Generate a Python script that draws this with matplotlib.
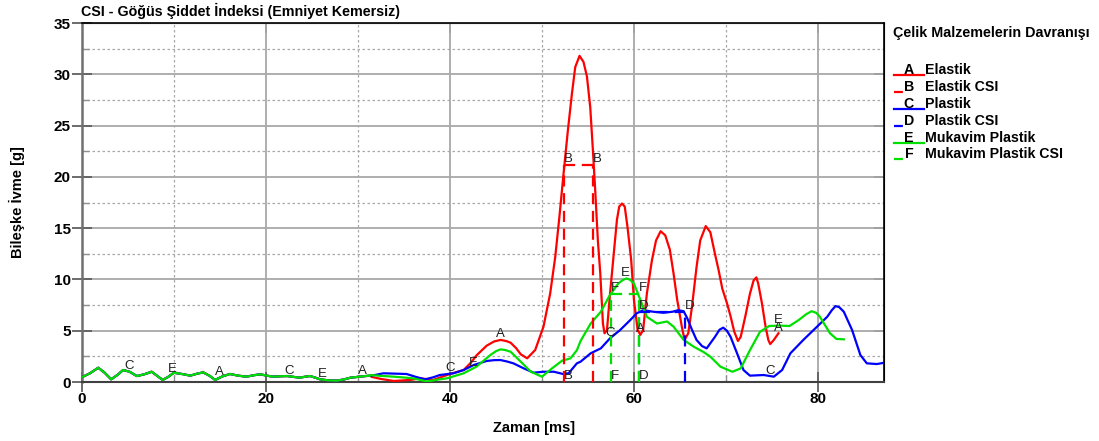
import numpy as np
import matplotlib
matplotlib.use('Agg')
import matplotlib.pyplot as plt
from matplotlib.lines import Line2D
from matplotlib.ticker import MultipleLocator

plt.rcParams['font.family'] = ['Liberation Sans', 'DejaVu Sans']

# ortak başlangıç bölgesi (üç eğri de üst üste)
early_t = [0, 0.9, 1.8, 2.5, 3.2, 3.9, 4.5, 5.2, 6.0, 6.8, 7.6, 8.2, 8.8, 9.4, 10.0,
           10.9, 11.8, 12.5, 13.2, 13.9, 14.5, 15.3, 16.1, 17.0, 17.9, 18.7, 19.4, 20.1,
           20.8, 21.6, 22.3, 23.0, 23.7, 24.3, 24.8, 25.4, 25.9, 26.8, 27.7, 28.5, 29.2,
           30.2, 31.3]
early_g = [0.46, 0.85, 1.39, 0.9, 0.26, 0.7, 1.17, 1.0, 0.58, 0.75, 1.0, 0.6, 0.2, 0.5, 0.9,
           0.78, 0.62, 0.8, 0.94, 0.6, 0.2, 0.55, 0.78, 0.62, 0.52, 0.66, 0.75, 0.62,
           0.52, 0.56, 0.58, 0.5, 0.42, 0.52, 0.58, 0.42, 0.26, 0.16, 0.13, 0.25, 0.42,
           0.52, 0.62]

# Elastik
elastik_t = [31.5, 32.5, 33.9, 35.7, 36.8, 38.2, 40.0, 41.5, 42.3, 42.9, 44.0, 44.8, 45.5,
             46.1, 46.6, 47.2, 47.7, 48.4, 49.27, 50.17, 50.9, 51.45, 51.9, 52.35, 52.83,
             53.26, 53.62, 54.09, 54.52, 54.89, 55.25, 55.54, 55.79, 56.08, 56.34, 56.63,
             56.8, 57.07, 57.4, 57.8, 58.15, 58.4, 58.7, 59.0, 59.3, 59.7, 60.0, 60.4,
             60.7, 61.0, 61.4, 61.96, 62.4, 62.9, 63.4, 63.9, 64.3, 64.7, 65.2, 65.5,
             65.9, 66.3, 66.8, 67.2, 67.8, 68.3, 68.8, 69.2, 69.6, 70.1, 70.5, 70.9,
             71.3, 71.6, 72.1, 72.6, 73.0, 73.3, 73.5, 73.9, 74.3, 74.6, 74.8, 75.2, 75.7]
elastik_g = [0.5, 0.3, 0.1, 0.2, 0.36, 0.2, 0.78, 1.17, 1.9, 2.6, 3.54, 3.95, 4.1,
             4.0, 3.83, 3.3, 2.7, 2.31, 3.12, 5.39, 8.64, 12.2, 16.1, 20.3, 24.6,
             28.1, 30.7, 31.8, 31.2, 29.8, 26.8, 22.6, 18.7, 13.8, 10.6, 5.7,
             4.75, 5.07, 8.6, 12.5, 15.8, 17.1, 17.4, 17.1, 15.1, 11.9, 8.0, 5.07,
             4.6, 5.07, 8.6, 11.9, 13.8, 14.7, 14.3, 12.9, 10.6, 8.0, 5.4, 4.1,
             4.75, 7.3, 11.2, 13.8, 15.2, 14.6, 12.5, 10.9, 9.1, 7.7, 6.4, 4.9,
             4.0, 4.4, 6.4, 8.6, 9.9, 10.2, 9.6, 7.7, 5.4, 4.1, 3.7, 4.1, 4.75]

# Plastik
plastik_t = [31.5, 32.8, 35.3, 36.3, 37.3, 38.2, 38.9, 40.4, 41.5, 42.6, 44.0, 44.8, 45.5,
             46.2, 46.9, 48.0, 49.1, 50.2, 51.3, 52.3, 52.9, 53.8, 54.2, 55.3, 56.4, 57.4,
             58.5, 59.6, 60.3, 61.0, 62.1, 63.2, 64.2, 64.8, 65.4, 65.8, 66.3, 66.8, 67.4,
             67.9, 68.8, 69.3, 69.7, 70.1, 70.5, 71.2, 71.9, 72.6, 74.1, 75.2, 76.1, 77.0,
             78.4, 79.9, 81.0, 81.5, 81.9, 82.3, 82.8, 83.7, 84.6, 85.3, 86.4, 87.2]
plastik_g = [0.62, 0.85, 0.78, 0.5, 0.26, 0.46, 0.68, 0.85, 1.17, 1.66, 2.05, 2.13, 2.14,
             2.0, 1.82, 1.34, 0.91, 1.0, 1.0, 0.78, 0.85, 1.82, 1.98, 2.8, 3.28, 4.26,
             5.07, 6.04, 6.7, 7.0, 6.85, 6.75, 6.85, 7.0, 6.9, 6.2, 5.1, 4.1, 3.5,
             3.28, 4.4, 5.1, 5.3, 5.0, 4.4, 2.8, 1.17, 0.62, 0.68, 0.52, 1.17, 2.8,
             4.1, 5.4, 6.36, 7.0, 7.4, 7.3, 6.85, 5.07, 2.63, 1.82, 1.75, 1.88]

# Mukavim Plastik
mukavim_t = [31.3, 32.5, 33.9, 36.0, 37.5, 38.9, 39.7, 41.5, 42.9, 44.4, 45.0, 45.5, 46.0,
             46.6, 47.7, 48.8, 50.0, 51.1, 52.2, 53.1, 53.8, 54.2, 55.3, 56.4, 57.4, 58.3,
             58.8, 59.2, 59.6, 60.0, 60.7, 61.4, 62.5, 63.6, 64.3, 65.4, 66.5, 67.6, 68.3,
             69.4, 70.7, 71.6, 72.6, 73.7, 74.7, 75.8, 76.9, 77.9, 78.7, 79.3, 79.8, 80.2,
             81.3, 82.0, 82.8]
mukavim_g = [0.68, 0.6, 0.52, 0.36, 0.05, 0.26, 0.36, 0.85, 1.5, 2.63, 3.0, 3.18, 3.12,
             2.95, 1.98, 1.0, 0.52, 1.33, 2.08, 2.3, 3.1, 4.0, 5.7, 6.85, 8.5, 9.6,
             9.95, 10.1, 9.95, 9.6, 8.0, 6.36, 5.7, 5.9, 5.4, 4.1, 3.44, 2.9, 2.47,
             1.49, 1.0, 1.33, 3.1, 4.9, 5.46, 5.5, 5.46, 6.04, 6.6, 6.9, 6.75, 6.36,
             4.75, 4.2, 4.16]

# CSI seviyeleri (3 ms) ve başlangıç/bitiş zamanları: B, D, F
csi_level = [21.2, 6.85, 8.58]
csi_start = [52.4, 60.5, 57.5]
csi_end = [55.55, 65.5, 60.5]

# eğri üzerindeki harf etiketlerinin zamanları
label_t_A = [15.0, 30.5, 45.5, 60.7, 75.7]
label_t_C = [5.2, 22.5, 40.0, 57.4, 74.8]
label_t_E = [9.8, 26.1, 42.5, 59.1, 75.7]

names = ['Elastik', 'Elastik CSI', 'Plastik', 'Plastik CSI', 'Mukavim Plastik', 'Mukavim Plastik CSI']
letters = ['A', 'B', 'C', 'D', 'E', 'F']
RED, BLUE, GREEN = '#ff0000', '#0000ff', '#00e000'

fig = plt.figure(figsize=(10.99, 4.41), dpi=100)
W, H = 1099, 441
ax = fig.add_axes([81.7 / W, 1 - 382 / H, (884.3 - 81.7) / W, (382 - 23) / H])

series = [
    (np.r_[early_t, elastik_t], np.r_[early_g, elastik_g], RED, label_t_A, 'A'),
    (np.r_[early_t, plastik_t], np.r_[early_g, plastik_g], BLUE, label_t_C, 'C'),
    (np.r_[early_t, mukavim_t], np.r_[early_g, mukavim_g], GREEN, label_t_E, 'E'),
]
for t, g, col, lt, let in series:
    ax.plot(t, g, color=col, lw=1.6, zorder=3, solid_joinstyle='round')

# CSI çizgileri
csi_cols = [RED, BLUE, GREEN]
for lev, t0, t1, col, let in zip(csi_level, csi_start, csi_end, csi_cols, ['B', 'D', 'F']):
    ax.plot([t0, t0], [0, lev], color=col, lw=1.6, ls=(0, (5, 3)), zorder=4)
    ax.plot([t1, t1], [0, lev], color=col, lw=1.6, ls=(0, (5, 3)), zorder=4)
    ax.plot([t0, t1], [lev, lev], color=col, lw=1.6, ls=(0, (5, 3)), zorder=4)
    for x, y in [(t0, 0), (t0, lev), (t1, lev)]:
        ax.text(x, y, let, ha='left', va='bottom', fontsize=9.5, color='#202020', zorder=6)

# eğri etiketleri
for t, g, col, lt, let in series:
    for x in lt:
        y = np.interp(x, t, g)
        ax.annotate(let, (x, y), xytext=(0, 4), textcoords='offset points',
                    ha='center', va='center', fontsize=9.5, color='#202020', zorder=6)

ax.set_xlim(0, 87.2)
ax.set_ylim(0, 35)
ax.xaxis.set_major_locator(MultipleLocator(20))
ax.xaxis.set_minor_locator(MultipleLocator(10))
ax.yaxis.set_major_locator(MultipleLocator(5))
ax.yaxis.set_minor_locator(MultipleLocator(2.5))
ax.grid(which='major', color='#a8a8a8', lw=1.3, ls='-')
ax.grid(which='minor', color='#a8a8a8', lw=0.9, ls=(0, (2, 2)))
ax.set_axisbelow(True)

ax.tick_params(which='major', direction='inout', length=14, width=1.3, color='#606060',
               labelsize=11, pad=1)
ax.tick_params(axis='x', which='major', pad=0)
ax.tick_params(which='minor', direction='in', length=5, width=1.0, color='#909090')
for lab in ax.get_xticklabels() + ax.get_yticklabels():
    lab.set_fontweight('bold')

ax.spines['left'].set_color('#707070')
ax.spines['left'].set_linewidth(1.8)
ax.spines['bottom'].set_color('#404040')
ax.spines['bottom'].set_linewidth(1.5)
ax.spines['top'].set_color('black')
ax.spines['right'].set_color('black')
ax.spines['top'].set_linewidth(1.2)
ax.spines['right'].set_linewidth(1.2)

sec_y = ax.secondary_yaxis('right')
sec_y.set_yticks(np.arange(5, 35, 5))
sec_y.tick_params(direction='in', length=7, width=1.2, color='#404040', labelright=False)
sec_x = ax.secondary_xaxis('top')
sec_x.set_xticks([20, 40, 60, 80])
sec_x.tick_params(direction='in', length=7, width=1.2, color='#606060', labeltop=False)

fig.text(534 / W, 1 - 428 / H, 'Zaman [ms]', ha='center', va='center',
         fontsize=10.5, fontweight='bold')
fig.text(17 / W, 1 - 202 / H, 'Bileşke İvme [g]', rotation=90, ha='center', va='center',
         fontsize=10.5, fontweight='bold')
fig.text(81 / W, 1 - 11 / H, 'CSI - Göğüs Şiddet İndeksi (Emniyet Kemersiz)',
         ha='left', va='center', fontsize=10.3, fontweight='bold')

# sağdaki açıklama bloğu
fig.text(893 / W, 1 - 33 / H, 'Çelik Malzemelerin Davranışı', ha='left', va='center',
         fontsize=10.3, fontweight='bold')
leg_cols = [RED, RED, BLUE, BLUE, GREEN, GREEN]
for i, (name, let, col) in enumerate(zip(names, letters, leg_cols)):
    yc = 70 + i * 16.9
    ls = '-' if i % 2 == 0 else (0, (4, 10))
    fig.add_artist(Line2D([894 / W, 924 / W], [1 - (yc + 5) / H] * 2, color=col, lw=1.6, ls=ls))
    fig.text(909 / W, 1 - yc / H, let, ha='center', va='center', fontsize=10.2, fontweight='bold')
    fig.text(925 / W, 1 - yc / H, name, ha='left', va='center', fontsize=10.2, fontweight='bold')

fig.savefig('out.png', dpi=100)
